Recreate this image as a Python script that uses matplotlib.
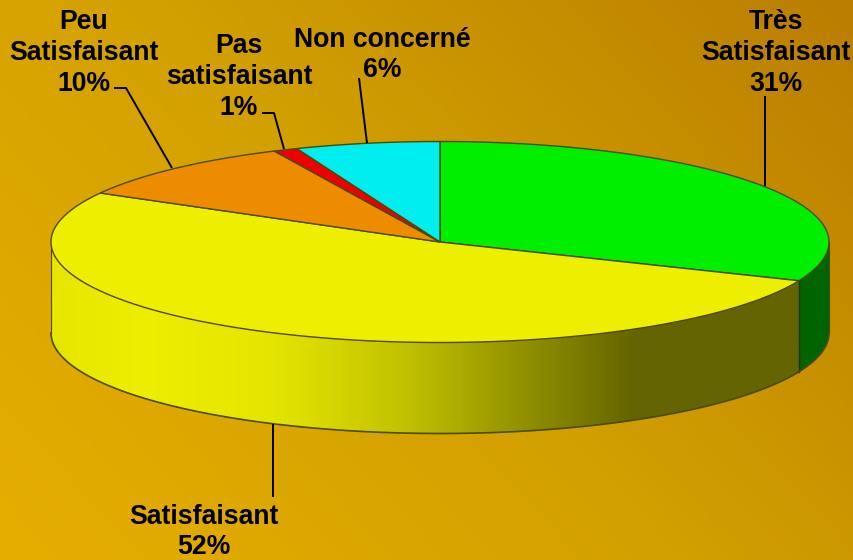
import numpy as np
import matplotlib
matplotlib.use("Agg")
import matplotlib.pyplot as plt
from matplotlib.colors import LinearSegmentedColormap
from matplotlib.patches import Polygon

categories = ["Très\nSatisfaisant", "Satisfaisant", "Peu\nSatisfaisant", "Pas\nsatisfaisant", "Non concerné"]
values = [31.3, 51.8, 9.9, 1.0, 6.0]
percent_labels = ["31%", "52%", "10%", "1%", "6%"]
top_colors = ["#00ee00", "#eeee00", "#ee8c00", "#ee0000", "#00eeee"]
green_side_color = "#006400"

cx, cy, rx, ry, depth = 440, 242, 389, 100.5, 91
W, H = 854, 560

plt.rcParams["font.family"] = ["Liberation Sans", "DejaVu Sans"]

fig = plt.figure(figsize=(W / 100, H / 100), dpi=100)
ax = fig.add_axes([0, 0, 1, 1])

# diagonal background gradient
bg_cmap = LinearSegmentedColormap.from_list("bg", ["#e6ae00", "#d2a000", "#bb7e00"])
xx, yy = np.meshgrid(np.linspace(0, 1, 300), np.linspace(0, 1, 200))
ax.imshow(xx * 0.62 + (1 - yy) * 0.38, cmap=bg_cmap, extent=(0, W, H, 0), aspect="auto", vmin=0, vmax=1, zorder=0)


def rim(a, b, dy=0):
    t = np.radians(np.linspace(a, b, 200))
    return np.column_stack([cx + rx * np.sin(t), cy - ry * np.cos(t) + dy])


edges = np.concatenate([[0], np.cumsum(values)]) * 3.6
outline = "#4a4a00"

# yellow side, shaded from left to right
side_cmap = LinearSegmentedColormap.from_list(
    "side",
    [(0, "#e6e600"), (0.12, "#eeee00"), (0.3, "#e4e400"), (0.47, "#c2c200"), (0.78, "#646400"), (1, "#646400")],
)
side_poly = Polygon(np.vstack([rim(edges[1], 270), rim(edges[1], 270, depth)[::-1]]), closed=True,
                    fc="none", ec="none")
ax.add_patch(side_poly)
grad = ax.imshow(
    np.linspace(0, 1, 400)[None, :], cmap=side_cmap, extent=(cx - rx, 800, cy + ry + depth, cy - ry),
    aspect="auto", zorder=1,
)
grad.set_clip_path(side_poly)

# green side
green_side = np.vstack([rim(90, edges[1]), rim(90, edges[1], depth)[::-1]])
ax.add_patch(Polygon(green_side, closed=True, fc=green_side_color, ec="none", zorder=2))
split = rim(edges[1], edges[1])[0]
ax.plot([split[0], split[0]], [split[1], split[1] + depth], color="#203000", lw=1.0, zorder=3)

# outer side outline
ax.plot(*rim(90, 270, depth).T, color=outline, lw=1.2, zorder=3)
ax.plot([cx + rx, cx + rx], [cy, cy + depth], color=outline, lw=0.8, zorder=3)
ax.plot([cx - rx, cx - rx], [cy, cy + depth], color=outline, lw=0.8, zorder=3)

# top face
for i, col in enumerate(top_colors):
    pts = np.vstack([[cx, cy], rim(edges[i], edges[i + 1])])
    ax.add_patch(Polygon(pts, closed=True, fc=col, ec=outline, lw=1.0, zorder=4))

# labels
fs = 19.2
label_x = [776, 204, 84, 239, 382]
label_y = [53, 532, 53, 77, 55]
for i, (x, y) in enumerate(zip(label_x, label_y)):
    ax.text(x, y, categories[i] + "\n" + percent_labels[i], ha="center", va="center", fontsize=fs,
            fontweight="bold", color="black", linespacing=1.24, zorder=6)

# leader lines
leaders_x = [[765, 765], [273, 273], [114, 126, 172], [262, 274, 284], [359, 367]]
leaders_y = [[96, 186], [424, 497], [88, 88, 168], [113, 113, 149], [78, 143]]
for lx, ly in zip(leaders_x, leaders_y):
    ax.plot(lx, ly, color="black", lw=1.4, zorder=5, solid_capstyle="butt")

ax.set_xlim(0, W)
ax.set_ylim(H, 0)
ax.axis("off")

fig.savefig("out.png", dpi=100)
plt.close(fig)
